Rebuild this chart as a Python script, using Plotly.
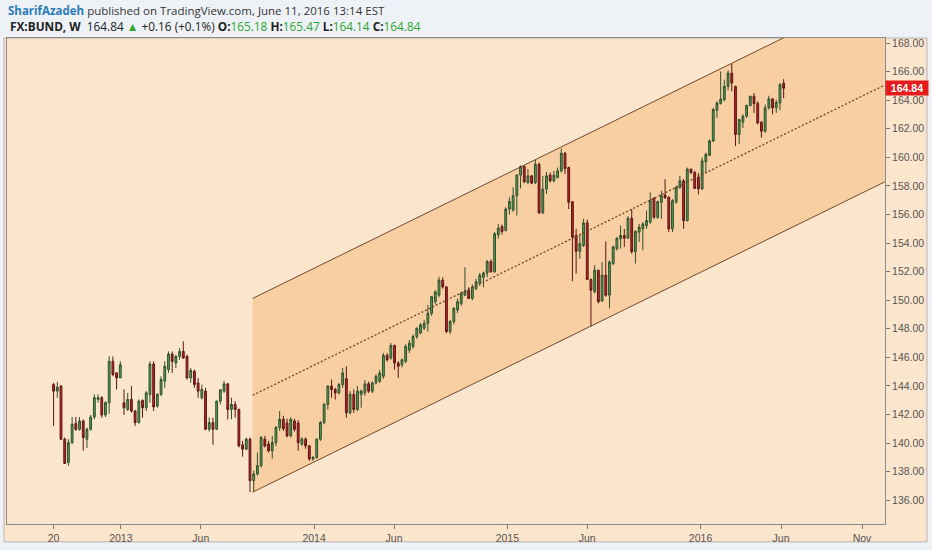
"""
Weekly BUND candles with a hand-drawn parallel channel, TradingView style.
"""

import pandas as pd
import plotly.graph_objects as go

# Weekly bars, Monday dated
first_bar = "2012-08-27"

opens = [
    144.09, 143.63, 143.98, 140.27, 138.64, 140.03, 141.36, 140.96, 141.54, 140.27,
    140.96, 141.82, 143.05, 143.17, 141.96, 142.82, 145.72, 144.91, 144.56, 142.82,
    142.35, 143.05, 142.24, 141.43, 142.98, 142.47, 143.40, 145.53, 142.59, 143.40,
    144.33, 145.14, 146.23, 145.60, 146.06, 146.41, 146.06, 144.56, 145.02, 144.20,
    143.17, 143.63, 140.96, 141.43, 140.96, 142.93, 143.63, 144.14, 142.35, 142.70,
    142.35, 139.87, 139.57, 140.27, 137.37, 137.83, 138.41, 140.27, 139.92, 139.45,
    140.03, 141.08, 141.66, 141.40, 140.50, 141.54, 141.40, 139.92, 140.27, 139.80,
    138.88, 138.99, 140.27, 141.43, 142.70, 143.98, 143.75, 143.51, 144.09, 144.50,
    142.12, 143.40, 142.35, 143.40, 143.51, 144.14, 143.63, 144.21, 144.33, 144.67,
    146.13, 145.95, 146.83, 145.60, 145.48, 145.72, 146.50, 146.76, 147.45, 147.70,
    148.03, 148.38, 149.08, 149.89, 150.35, 151.40, 150.93, 147.80, 148.50, 149.31,
    149.77, 150.35, 150.70, 150.12, 150.82, 151.17, 151.60, 151.90, 152.70, 151.98,
    154.57, 155.15, 154.88, 156.38, 156.30, 157.31, 158.75, 159.35, 158.24, 158.70,
    158.24, 159.51, 156.11, 157.77, 158.75, 158.35, 158.59, 159.05, 160.28, 159.28,
    156.89, 154.53, 153.42, 153.83, 155.41, 151.45, 150.59, 152.10, 149.94, 151.75,
    150.35, 152.56, 153.60, 154.30, 154.53, 154.34, 155.73, 153.40, 154.76, 154.99,
    155.22, 155.46, 157.13, 155.80, 156.85, 157.36, 157.20, 154.99, 156.89, 157.89,
    158.35, 155.57, 159.17, 158.93, 158.60, 157.78, 159.68, 160.14, 161.14, 163.29,
    163.76, 164.03, 164.96, 165.89, 164.96, 161.60, 162.46, 162.88, 163.62, 164.27,
    163.76, 162.46, 161.83, 163.46, 164.08, 163.46, 163.80, 165.18,
]
highs = [
    144.21, 144.28, 144.05, 140.38, 140.27, 141.82, 141.82, 141.82, 141.66, 141.08,
    141.96, 143.40, 143.40, 143.28, 142.93, 146.06, 146.06, 144.91, 145.72, 143.75,
    143.51, 143.98, 142.30, 143.05, 143.05, 143.63, 145.72, 145.72, 143.51, 144.67,
    145.72, 146.41, 146.41, 146.18, 146.64, 147.11, 146.18, 145.25, 145.14, 144.56,
    144.09, 143.86, 141.80, 141.77, 142.98, 143.75, 144.33, 144.21, 143.17, 142.93,
    142.40, 140.15, 140.38, 140.38, 138.06, 139.34, 140.50, 140.50, 140.15, 140.50,
    141.19, 142.24, 141.90, 141.70, 141.80, 141.70, 141.60, 140.40, 140.40, 139.85,
    139.10, 140.30, 141.54, 142.82, 144.05, 144.44, 143.86, 144.21, 145.25, 145.37,
    143.63, 143.75, 143.98, 143.75, 144.40, 144.30, 144.30, 144.80, 145.10, 146.30,
    146.30, 146.99, 146.88, 145.72, 145.90, 146.90, 147.20, 147.60, 148.10, 148.40,
    148.60, 149.66, 150.30, 150.70, 151.63, 151.60, 150.93, 148.61, 149.50, 150.10,
    150.60, 152.30, 150.90, 151.10, 151.50, 151.90, 152.00, 152.80, 152.85, 154.76,
    155.34, 155.30, 156.50, 157.20, 157.89, 158.82, 159.44, 159.44, 159.17, 158.75,
    159.81, 159.63, 158.70, 158.98, 158.93, 159.05, 159.28, 160.60, 160.37, 159.35,
    156.89, 154.99, 154.64, 155.69, 155.64, 151.51, 152.44, 152.10, 152.67, 154.11,
    152.79, 153.83, 154.41, 155.22, 154.99, 155.87, 156.38, 154.88, 155.34, 155.46,
    156.27, 157.54, 157.20, 156.96, 157.66, 158.47, 157.27, 157.08, 158.01, 158.70,
    158.47, 159.28, 159.21, 159.05, 158.90, 159.98, 160.32, 161.25, 163.46, 163.92,
    166.01, 165.43, 166.08, 166.54, 165.01, 162.69, 163.01, 163.69, 164.31, 164.50,
    163.92, 162.53, 163.69, 164.31, 164.15, 164.03, 165.20, 165.47,
]
lows = [
    141.19, 143.17, 140.20, 138.53, 138.41, 139.92, 140.85, 140.85, 139.46, 139.64,
    140.85, 141.66, 142.82, 141.77, 141.82, 142.05, 144.67, 143.75, 144.56, 141.96,
    142.24, 142.12, 141.19, 141.36, 141.77, 142.24, 142.82, 142.24, 142.47, 143.28,
    143.86, 144.91, 144.91, 145.25, 145.83, 145.90, 144.44, 144.21, 143.86, 143.17,
    143.05, 140.90, 140.80, 139.87, 140.90, 142.70, 143.51, 141.66, 141.66, 141.77,
    139.69, 139.04, 139.50, 136.56, 136.56, 137.72, 138.30, 139.69, 139.34, 138.90,
    139.80, 140.85, 140.85, 140.40, 140.40, 140.80, 139.45, 139.80, 139.60, 138.76,
    138.76, 138.90, 140.15, 141.31, 142.35, 143.17, 143.05, 143.40, 143.86, 141.77,
    142.00, 142.12, 142.24, 142.47, 143.30, 143.50, 143.50, 144.10, 144.20, 144.50,
    145.70, 145.83, 145.14, 144.56, 145.30, 145.60, 146.30, 146.60, 147.30, 147.60,
    147.90, 147.80, 148.90, 149.70, 150.20, 150.80, 147.69, 147.62, 148.30, 149.10,
    149.60, 150.30, 150.10, 150.00, 150.70, 151.00, 150.90, 151.60, 151.90, 151.93,
    154.30, 154.60, 154.81, 156.00, 156.20, 155.92, 157.82, 158.19, 158.12, 158.12,
    158.12, 156.04, 156.04, 157.43, 158.24, 158.24, 158.52, 158.93, 158.82, 156.38,
    151.33, 151.86, 152.90, 153.72, 151.40, 148.15, 150.47, 149.77, 149.89, 150.24,
    149.43, 152.44, 153.48, 153.60, 153.72, 154.30, 153.25, 152.56, 154.06, 153.49,
    154.99, 155.34, 155.69, 155.69, 155.69, 157.08, 154.76, 154.76, 156.73, 157.78,
    154.99, 155.50, 158.82, 157.78, 157.40, 157.73, 158.93, 160.09, 161.07, 162.76,
    163.69, 163.92, 164.68, 164.61, 160.79, 160.91, 162.06, 162.76, 163.57, 163.11,
    162.30, 161.37, 161.72, 163.34, 163.01, 163.11, 163.29, 164.14,
]
closes = [
    143.63, 143.91, 140.27, 138.57, 140.03, 141.31, 140.96, 141.54, 140.38, 140.96,
    141.82, 143.17, 143.17, 141.96, 142.82, 145.72, 144.79, 144.56, 145.48, 142.47,
    143.05, 142.24, 141.43, 142.93, 142.47, 143.51, 145.53, 142.52, 143.40, 144.44,
    145.37, 146.23, 145.72, 146.06, 146.41, 145.95, 144.56, 145.07, 144.09, 143.63,
    143.75, 140.96, 141.43, 140.96, 142.93, 143.72, 144.14, 142.35, 142.70, 142.35,
    139.80, 139.57, 140.27, 137.37, 137.83, 138.41, 140.38, 139.80, 139.45, 140.03,
    141.08, 141.66, 141.00, 140.50, 141.66, 140.96, 140.03, 140.27, 139.80, 138.88,
    138.99, 140.27, 141.43, 142.70, 143.98, 143.75, 143.51, 144.09, 144.90, 142.12,
    143.40, 142.35, 143.63, 143.63, 144.14, 143.63, 144.21, 144.67, 144.90, 146.13,
    145.83, 146.83, 145.60, 145.37, 145.83, 146.76, 146.99, 147.45, 148.03, 148.27,
    148.38, 149.08, 150.24, 150.58, 151.40, 150.93, 147.80, 148.50, 149.43, 149.89,
    150.47, 150.63, 150.12, 150.93, 151.28, 151.74, 151.90, 152.70, 152.00, 154.64,
    155.04, 154.81, 156.38, 156.90, 157.31, 158.75, 159.35, 158.28, 158.70, 158.19,
    159.51, 156.11, 157.77, 158.70, 158.35, 158.75, 159.05, 160.28, 159.21, 156.85,
    154.41, 153.42, 153.95, 155.41, 151.45, 150.70, 152.10, 149.89, 151.75, 150.35,
    152.67, 153.72, 154.34, 154.53, 154.34, 155.73, 153.40, 154.81, 155.11, 155.34,
    155.57, 156.96, 155.80, 156.89, 157.31, 157.17, 154.99, 156.96, 157.89, 158.35,
    155.57, 159.17, 158.93, 157.82, 157.80, 159.75, 160.21, 161.14, 163.34, 163.80,
    164.08, 164.96, 165.89, 165.20, 161.60, 162.64, 162.88, 163.62, 164.27, 163.76,
    162.41, 161.83, 163.46, 164.08, 163.46, 163.85, 165.08, 164.84,
]

dates = pd.date_range(first_bar, periods=len(closes), freq="7D")

# Parallel channel drawn on the chart (left anchor, right edge)
channel_dates = ["2013-09-07", "2016-12-14"]
channel_lower = [136.56, 158.28]
channel_upper = [150.12, 171.84]
channel_mid = [(a + b) / 2 for a, b in zip(channel_lower, channel_upper)]

# Time axis labels
tick_dates = [
    "2012-08-27", "2013-01-01", "2013-06-01", "2014-01-01", "2014-06-01",
    "2015-01-01", "2015-06-01", "2016-01-01", "2016-06-01", "2016-11-01",
]
tick_labels = ["20", "2013", "Jun", "2014", "Jun", "2015", "Jun", "2016", "Jun", "Nov"]

last_price = 164.84

BG = "#fce5cd"
CHANNEL_FILL = "#f8cfa3"
CHANNEL_LINE = "#6e4a2e"

fig = go.Figure()

# channel body as a shape so the candles sit on top of it
ms = [pd.Timestamp(d).value // 10**6 for d in channel_dates]
channel_path = (
    f"M {ms[0]},{channel_lower[0]} L {ms[1]},{channel_lower[1]} "
    f"L {ms[1]},{channel_upper[1]} L {ms[0]},{channel_upper[0]} Z"
)
fig.add_shape(
    type="path", path=channel_path, xref="x", yref="y",
    fillcolor=CHANNEL_FILL, line=dict(width=0), layer="below",
)

fig.add_trace(
    go.Candlestick(
        x=dates,
        open=opens,
        high=highs,
        low=lows,
        close=closes,
        increasing=dict(line=dict(color="#2d4f2d", width=1), fillcolor="#55a055"),
        decreasing=dict(line=dict(color="#5a1515", width=1), fillcolor="#c0222a"),
        whiskerwidth=0,
    )
)

for ys, dash, color, w in [
    (channel_lower, "solid", CHANNEL_LINE, 1),
    (channel_upper, "solid", CHANNEL_LINE, 1),
    (channel_mid, "2px,2px", "#6b4220", 1.3),
]:
    fig.add_trace(
        go.Scatter(
            x=channel_dates,
            y=ys,
            mode="lines",
            line=dict(color=color, width=w, dash=dash),
            hoverinfo="skip",
        )
    )

# peach panel behind plot and axes
fig.add_shape(
    type="rect",
    xref="paper",
    yref="paper",
    x0=-0.0034,
    x1=1.0478,
    y0=-0.0368,
    y1=1.0,
    fillcolor=BG,
    line=dict(color="#b9b3ad", width=1),
    layer="below",
)

header_1 = (
    "<span style='color:#2b7bb9'><b>SharifAzadeh</b></span>"
    "<span style='color:#333'> published on TradingView.com, June 11, 2016 13:14 EST</span>"
)
G = "#2ea52e"
header_2 = (
    "<b>FX:BUND, W</b>  164.84 "
    f"<span style='color:{G}'>▲</span> +0.16 (+0.1%) "
    f"<b>O:</b><span style='color:{G}'>165.18</span> "
    f"<b>H:</b><span style='color:{G}'>165.47</span> "
    f"<b>L:</b><span style='color:{G}'>164.14</span> "
    f"<b>C:</b><span style='color:{G}'>164.84</span>"
)
fig.add_annotation(
    text=header_1, xref="paper", yref="paper", x=-0.001, y=1.057,
    xanchor="left", yanchor="middle", showarrow=False,
    font=dict(family="Open Sans, sans-serif", size=11.5, color="#333"),
)
fig.add_annotation(
    text=header_2, xref="paper", yref="paper", x=0.001, y=1.025,
    xanchor="left", yanchor="middle", showarrow=False,
    font=dict(family="Open Sans, sans-serif", size=11.8, color="#222"),
)

# last price tag on the price scale
fig.add_annotation(
    text=f"<b>{last_price:.2f}</b>", xref="paper", yref="y", x=1.0, y=last_price,
    xanchor="left", yanchor="middle", showarrow=False,
    bgcolor="#e51b1b", borderpad=1, width=40,
    font=dict(family="Liberation Sans, Arial, sans-serif", size=10.5, color="white"),
)

fig.update_layout(
    width=932,
    height=550,
    margin=dict(l=6, r=47, t=38, b=23),
    paper_bgcolor="#eef2f7",
    plot_bgcolor=BG,
    showlegend=False,
    hovermode=False,
    font=dict(family="Liberation Sans, Arial, sans-serif", size=10.5, color="#555"),
)
fig.update_xaxes(
    type="date",
    range=["2012-05-31", "2016-12-14 10:00"],
    rangeslider_visible=False,
    tickvals=tick_dates,
    ticktext=tick_labels,
    ticks="outside",
    ticklen=4,
    tickcolor="#777",
    showgrid=False,
    zeroline=False,
    showline=True,
    linecolor="#8a8a8a",
    mirror=True,
)
fig.update_yaxes(
    side="right",
    range=[134.33, 168.35],
    dtick=2,
    tick0=136,
    tickformat=".2f",
    ticks="outside",
    ticklen=4,
    tickcolor="#777",
    showgrid=False,
    zeroline=False,
    showline=True,
    linecolor="#8a8a8a",
    mirror=True,
)

# drop the default page margin so the 932x550 figure fills the window
fig.write_html(
    "out.html",
    config={"displayModeBar": False},
    post_script="document.body.style.margin='0px';",
)
